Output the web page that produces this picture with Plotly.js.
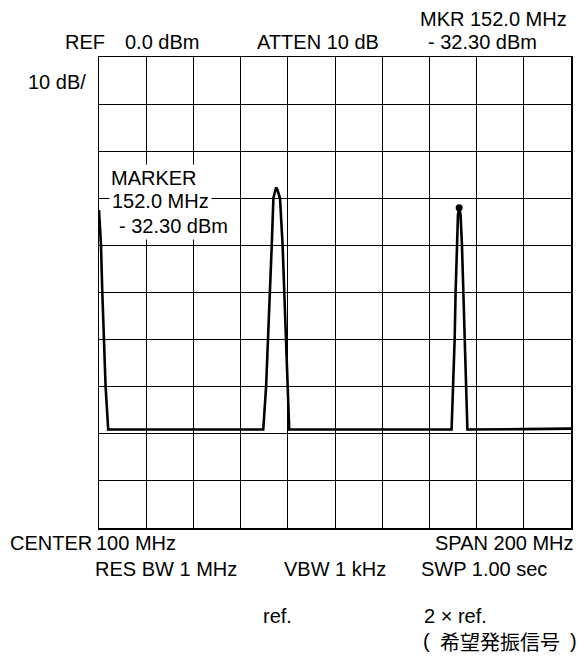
<!DOCTYPE html>
<html>
<head>
<meta charset="utf-8">
<script src="https://cdn.plot.ly/plotly-3.0.1.min.js"></script>
<style>
  html, body { margin: 0; padding: 0; background: #ffffff; }
  #chart { width: 588px; height: 657px; }
</style>
</head>
<body>
<div id="chart"></div>
<script>
// ---- Data (frequency in MHz, level in dBm) ----
const traceFreqMHz = [0, 0.85, 1.4, 2.1, 2.8, 3.9,
  69.6, 70.8, 71.7, 72.5, 73.2, 73.9, 74.5, 75.0, 75.6, 76.7, 77.8, 78.5, 79.2, 80.0, 80.6,
  149.4, 150.1, 150.7, 151.1, 151.6, 152.1, 152.6, 153.2, 153.8, 154.4, 155.0, 155.5, 156.1,
  180, 200];
const traceLevelDbm = [-32.5, -40, -50, -60, -70, -79.1,
  -79.1, -70, -60, -50, -40, -30, -28.3, -27.7, -28.2, -30, -40, -50, -60, -70, -79.1,
  -79.1, -70, -60, -50, -40, -33.5, -32.0, -33.5, -40, -50, -60, -70, -79.1,
  -79.0, -78.9];
const markerFreqMHz = [152.6];
const markerLevelDbm = [-32.0];

// Screen annotation texts
const headerTexts = {
  mkr: "MKR 152.0 MHz",
  ref: "REF",
  refVal: "0.0 dBm",
  atten: "ATTEN 10 dB",
  mkrVal: "- 32.30 dBm",
  scale: "10 dB/"
};
const markerTexts = ["MARKER", "152.0 MHz", "- 32.30 dBm"];
const footerTexts = {
  center: "CENTER",
  centerVal: "100 MHz",
  span: "SPAN 200 MHz",
  rbw: "RES BW 1 MHz",
  vbw: "VBW 1 kHz",
  swp: "SWP 1.00 sec",
  ref1: "ref.",
  ref2: "2 × ref.",
  desiredL: "(",
  desired: "希望発振信号",
  desiredR: ")"
};

// ---- layout helpers (pixel -> paper) ----
const L = 99, T = 57, W = 472, H = 471;
const fx = px => (px - L) / W;
const fy = py => (T + H - py) / H;
const FONT = { family: "Liberation Sans, Arial, Helvetica, sans-serif", size: 20, color: "#000" };
const CJK = { family: "Noto Sans CJK JP, Liberation Sans, sans-serif", size: 20, color: "#000" };

function ann(text, px, py, anchor, opts) {
  return Object.assign({
    text: text, xref: "paper", yref: "paper",
    x: fx(px), y: fy(py), xanchor: anchor || "left", yanchor: "middle",
    showarrow: false, borderpad: 0, font: FONT
  }, opts || {});
}

const annotations = [
  ann(headerTexts.mkr, 418.5, 19),
  ann(headerTexts.ref, 64, 42.3),
  ann(headerTexts.refVal, 124, 42.3),
  ann(headerTexts.atten, 256, 42.3),
  ann(headerTexts.mkrVal, 426.8, 42.3),
  ann(headerTexts.scale, 27, 82.3),
  ann(markerTexts[0], 108.2, 178, "left", { bgcolor: "#ffffff", borderpad: 2 }),
  ann(markerTexts[1], 108.5, 201.3, "left", { bgcolor: "#ffffff", borderpad: 2 }),
  ann(markerTexts[2], 116.4, 226.3, "left", { bgcolor: "#ffffff", borderpad: 2 }),
  ann(footerTexts.center, 9, 543),
  ann(footerTexts.centerVal, 94.5, 543),
  ann(footerTexts.span, 574.5, 543, "right"),
  ann(footerTexts.rbw, 94.4, 569),
  ann(footerTexts.vbw, 283, 569),
  ann(footerTexts.swp, 419.8, 569),
  ann(footerTexts.ref1, 262, 616.3),
  ann(footerTexts.ref2, 422.7, 616.3),
  ann(footerTexts.desiredL, 421.5, 641, "left", { font: FONT }),
  ann(footerTexts.desired, 438.5, 641, "left", { font: CJK }),
  ann(footerTexts.desiredR, 578, 641, "right", { font: FONT })
];

const axisCommon = {
  showgrid: true, gridcolor: "#000", gridwidth: 1,
  showline: true, mirror: true, linecolor: "#000", linewidth: 1.5,
  zeroline: false, showticklabels: false, ticks: "", fixedrange: true
};

const data = [
  {
    x: traceFreqMHz, y: traceLevelDbm, type: "scatter", mode: "lines",
    line: { color: "#000", width: 2.6, shape: "linear" },
    hoverinfo: "skip"
  },
  {
    x: markerFreqMHz, y: markerLevelDbm, type: "scatter", mode: "markers",
    marker: { color: "#000", size: 7 }, hoverinfo: "skip"
  }
];

const layout = {
  width: 588, height: 657,
  margin: { l: L, r: 588 - L - W, t: T, b: 657 - T - H },
  paper_bgcolor: "#ffffff", plot_bgcolor: "#ffffff",
  showlegend: false,
  xaxis: Object.assign({ range: [0, 200], tick0: 0, dtick: 20 }, axisCommon),
  yaxis: Object.assign({ range: [-100, 0], tick0: 0, dtick: 10 }, axisCommon),
  annotations: annotations
};

Plotly.newPlot("chart", data, layout, { displayModeBar: false, staticPlot: true });
</script>
</body>
</html>
